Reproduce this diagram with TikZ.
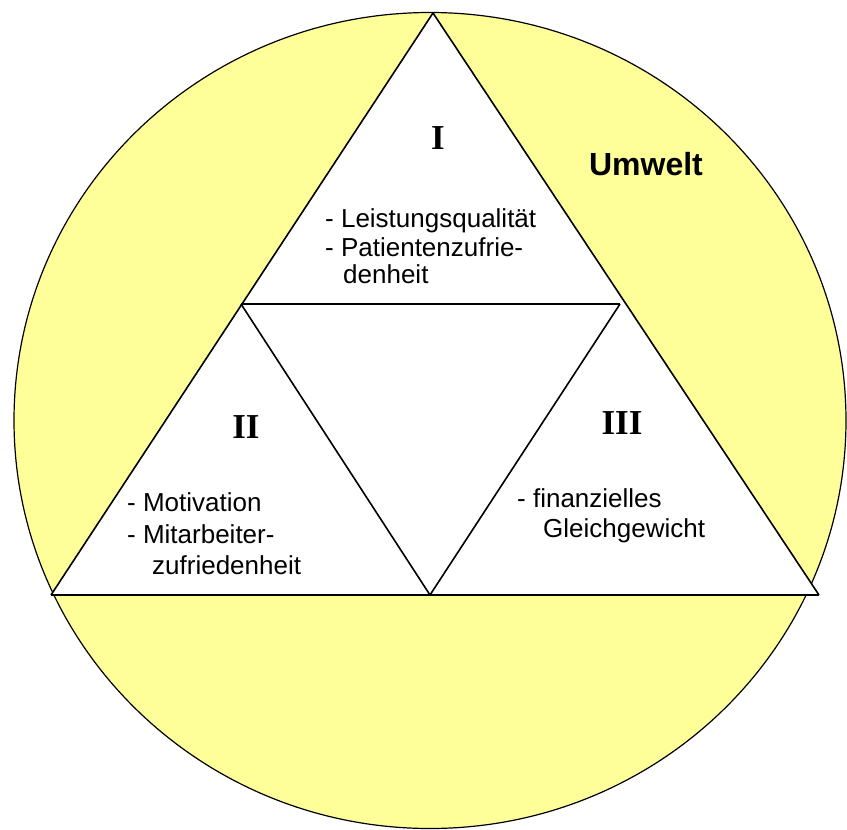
\documentclass[tikz,border=0pt]{standalone}
\usepackage{fontspec}
\setmainfont{Liberation Sans}
\newfontfamily\romanfont{Liberation Serif}
\usepackage{xcolor}
\definecolor{envyellow}{HTML}{FFFF99}

\begin{document}
\begin{tikzpicture}[
    x=1pt, y=-1pt,
    edge/.style={draw=black, line width=1.6pt},
    baseedge/.style={draw=black, line width=2.6pt},
    lbl/.style={font=\fontsize{26}{30}\selectfont, anchor=base west, inner sep=0pt},
    numeral/.style={font=\romanfont\bfseries\fontsize{35}{40}\selectfont, inner sep=0pt},
  ]

  \useasboundingbox (0,0) rectangle (847,830);

  % ---- the surrounding world
  \fill[envyellow] (430,420.5) ellipse [x radius=416pt, y radius=408pt];
  \draw[black, line width=1.2pt] (430,420.5) ellipse [x radius=416pt, y radius=408pt];

  % ---- corners of the big triangle and the middles of its sides
  \coordinate (top) at (433,13);
  \coordinate (bl) at (51,595);
  \coordinate (br) at (819,595);
  \coordinate (ml) at (241,304);
  \coordinate (mr) at (620,304);
  \coordinate (mb) at (430,595);

  \fill[white] (top) -- (bl) -- (br) -- cycle;

  % ---- sides
  \draw[edge] (top) -- (bl);
  \draw[edge] (top) -- (br);
  \draw[baseedge] (bl) -- (br);

  % ---- inner triangle
  \draw[baseedge] (ml) -- (mr);
  \draw[edge] (ml) -- (mb);
  \draw[edge] (mr) -- (mb);

  % ---- numerals
  \node[numeral] (n1) at (438,138) {I};
  \node[numeral] (n2) at (246,427) {II};
  \node[numeral] (n3) at (622,423) {III};

  % ---- what each part stands for
  \foreach \n/\x/\y/\t in {%
      a1/325/227/{- Leistungsqualität},
      a2/325/256/{- Patientenzufrie-},
      a3/343/283/{denheit},
      b1/127/511/{- Motivation},
      b2/127/543/{- Mitarbeiter-},
      b3/152/574/{zufriedenheit},
      c1/517/507/{- finanzielles},
      c2/543/537/{Gleichgewicht}} {
    \node[lbl] (\n) at (\x,\y) {\t};
  }

  \node[font=\bfseries\fontsize{32}{36}\selectfont, anchor=base] (env) at (646,175) {Umwelt};

\end{tikzpicture}
\end{document}
